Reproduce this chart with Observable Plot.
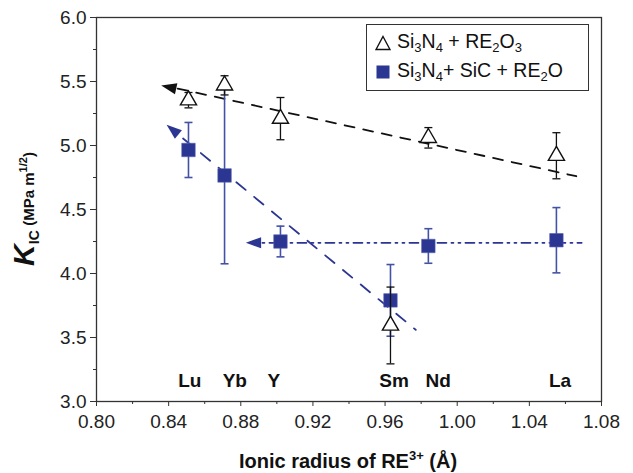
<!DOCTYPE html>
<html><head><meta charset="utf-8">
<script src="https://cdn.jsdelivr.net/npm/d3@7"></script>
<script src="https://cdn.jsdelivr.net/npm/@observablehq/plot@0.6"></script>
<style>
body{margin:0;background:#fff;font-family:"Liberation Sans",Arial,Helvetica,sans-serif;}
#wrap{position:relative;width:633px;height:473px;overflow:hidden;}
#wrap svg{position:absolute;left:0;top:0;}
.legend{position:absolute;left:366px;top:24px;width:221px;height:65px;border:1.5px solid #333;background:#fff;color:#111;font-size:19.5px;}
.legend .row{position:absolute;left:0;height:24px;line-height:24px;white-space:nowrap;}
.legend svg{position:static!important;vertical-align:middle;margin-left:8px;margin-right:6px;}
.legend sub{font-size:13px;vertical-align:-4px;line-height:0;}
.ylab{position:absolute;left:24px;top:209px;transform:translate(-50%,-50%) rotate(-90deg);white-space:nowrap;font-weight:bold;color:#111;}
.ylab .k{font-size:30px;font-style:italic;}
.ylab sub{font-size:14px;vertical-align:-5px;line-height:0;}
.ylab .u{font-size:15px;}
.ylab sup{font-size:11px;vertical-align:7px;line-height:0;}
.xlab{position:absolute;left:348px;top:461px;transform:translate(-50%,-50%);white-space:nowrap;font-weight:bold;font-size:20px;color:#111;}
.xlab sup{font-size:13px;vertical-align:8px;line-height:0;}
</style></head><body><div id="wrap"></div>
<script>
// ---- data ----
const elements = ["Lu", "Yb", "Y", "Sm", "Nd", "La"];
const radius = [0.851, 0.871, 0.902, 0.963, 0.984, 1.055];
const kOxide = [5.354, 5.47, 5.21, 3.594, 5.06, 4.92];
const errOxide = [0.06, 0.075, 0.165, 0.30, 0.08, 0.18];
const kSiC = [4.965, 4.766, 4.25, 3.79, 4.215, 4.26];
const errSiC = [0.215, 0.69, 0.12, 0.28, 0.135, 0.255];
const labelX = [0.8517, 0.8767, 0.8983, 0.965, 0.9894, 1.057];
const labelY = 3.16;
// trend lines (start, end)
const trendOxideX = [0.845, 1.066], trendOxideY = [5.445, 4.76];
const trendSteepX = [0.848, 0.977], trendSteepY = [5.055, 3.56];
const trendFlatX = [0.892, 1.069], trendFlatY = [4.24, 4.24];
// arrowheads: x, y, rotation(deg), colour
const arrowX = [0.8405, 0.8425, 0.8875];
const arrowY = [5.455, 5.12, 4.24];
const arrowRot = [-77.5, -50.5, -90];
const arrowColor = ["#111", "#2b3592", "#2b3592"];
const xTicks = [0.80, 0.84, 0.88, 0.92, 0.96, 1.00, 1.04, 1.08];
const xMinor = [0.82, 0.86, 0.90, 0.94, 0.98, 1.02, 1.06];
const yTicks = [3.0, 3.5, 4.0, 4.5, 5.0, 5.5, 6.0];
const yMinor = [3.25, 3.75, 4.25, 4.75, 5.25, 5.75];

const BLUE = "#2b3592";
const BLUE_BAR = "#4452a6";

const pts = elements.map((e, i) => ({
  el: e, r: radius[i], ko: kOxide[i], eo: errOxide[i], ks: kSiC[i], es: errSiC[i]
}));
const labels = elements.map((e, i) => ({el: e, x: labelX[i], y: labelY}));
const arrows = arrowX.map((x, i) => ({x, y: arrowY[i], rot: arrowRot[i], c: arrowColor[i]}));
const lineData = (xs, ys) => xs.map((x, i) => ({x, y: ys[i]}));

const capSym = {draw(ctx, size) { const r = Math.sqrt(size / Math.PI); ctx.moveTo(-r, 0); ctx.lineTo(r, 0); }};
const wedgeSym = {draw(ctx, size) { const r = Math.sqrt(size / Math.PI); ctx.moveTo(0, -r * 1.0); ctx.lineTo(r * 0.65, r * 0.8); ctx.lineTo(-r * 0.65, r * 0.8); ctx.closePath(); }};

const plot = Plot.plot({
  width: 633, height: 473,
  marginLeft: 96, marginRight: 32, marginTop: 17, marginBottom: 72,
  style: {fontFamily: "'Liberation Sans', Arial, Helvetica, sans-serif", fontSize: "19px", color: "#222", background: "transparent"},
  x: {domain: [0.8, 1.08]},
  y: {domain: [3, 6]},
  marks: [
    Plot.frame({stroke: "#333", strokeWidth: 1.3}),
    Plot.axisX({ticks: xTicks, tickFormat: d3.format(".2f"), tickSize: 5, tickPadding: 8, label: null, stroke: "#333", fill: "#222"}),
    Plot.axisX({ticks: xMinor, tickFormat: () => "", tickSize: 3, label: null, stroke: "#333"}),
    Plot.axisY({ticks: yTicks, tickFormat: d3.format(".1f"), tickSize: 6, tickPadding: 4, label: null, stroke: "#333", fill: "#222"}),
    Plot.axisY({ticks: yMinor, tickFormat: () => "", tickSize: 3, label: null, stroke: "#333"}),
    // trend lines
    Plot.line(lineData(trendSteepX, trendSteepY), {x: "x", y: "y", stroke: BLUE, strokeWidth: 1.8, strokeDasharray: "12,11"}),
    Plot.line(lineData(trendFlatX, trendFlatY), {x: "x", y: "y", stroke: BLUE, strokeWidth: 1.8, strokeDasharray: "2,5,9,5,2,5"}),
    Plot.line(lineData(trendOxideX, trendOxideY), {x: "x", y: "y", stroke: "#111", strokeWidth: 1.8, strokeDasharray: "10,9"}),
    Plot.dot(arrows, {x: "x", y: "y", rotate: "rot", fill: "c", stroke: "none", symbol: wedgeSym, r: 8.5}),
    // SiC series
    Plot.ruleX(pts, {x: "r", y1: d => d.ks - d.es, y2: d => d.ks + d.es, stroke: BLUE_BAR, strokeWidth: 1.6}),
    Plot.dot(pts, {x: "r", y: d => d.ks - d.es, symbol: capSym, r: 4, stroke: BLUE_BAR, strokeWidth: 1.6}),
    Plot.dot(pts, {x: "r", y: d => d.ks + d.es, symbol: capSym, r: 4, stroke: BLUE_BAR, strokeWidth: 1.6}),
    Plot.dot(pts, {x: "r", y: "ks", symbol: "square", r: 7.6, fill: BLUE, stroke: "#5560b0", strokeWidth: 0.6}),
    // oxide series
    Plot.ruleX(pts, {x: "r", y1: d => d.ko - d.eo, y2: d => d.ko + d.eo, stroke: "#111", strokeWidth: 1.3}),
    Plot.dot(pts, {x: "r", y: d => d.ko - d.eo, symbol: capSym, r: 4, stroke: "#111", strokeWidth: 1.3}),
    Plot.dot(pts, {x: "r", y: d => d.ko + d.eo, symbol: capSym, r: 4, stroke: "#111", strokeWidth: 1.3}),
    Plot.dot(pts, {x: "r", y: "ko", symbol: "triangle", r: 6, fill: "white", stroke: "#111", strokeWidth: 1.4}),
    // element labels
    Plot.text(labels, {x: "x", y: "y", text: "el", fontWeight: "bold", fontSize: 19, fill: "#111"})
  ]
});

const wrap = document.getElementById("wrap");
wrap.appendChild(plot);

const legend = document.createElement("div");
legend.className = "legend";
legend.innerHTML =
  '<div class="row" style="top:4px"><svg width="16" height="16" viewBox="0 0 16 16"><path d="M8 1.5 L15 14.5 L1 14.5 Z" fill="white" stroke="#111" stroke-width="1.4"/></svg>Si<sub>3</sub>N<sub>4</sub> + RE<sub>2</sub>O<sub>3</sub></div>' +
  '<div class="row" style="top:33px"><svg width="16" height="16" viewBox="0 0 16 16"><rect x="1.5" y="1.5" width="13" height="13" fill="' + BLUE + '"/></svg>Si<sub>3</sub>N<sub>4</sub>+ SiC + RE<sub>2</sub>O</div>';
wrap.appendChild(legend);

const ylab = document.createElement("div");
ylab.className = "ylab";
ylab.innerHTML = '<span class="k">K</span><sub>IC</sub> <span class="u">(MPa m<sup>1/2</sup>)</span>';
wrap.appendChild(ylab);

const xlab = document.createElement("div");
xlab.className = "xlab";
xlab.innerHTML = 'Ionic radius of RE<sup>3+</sup> (Å)';
wrap.appendChild(xlab);
</script>
</body></html>
